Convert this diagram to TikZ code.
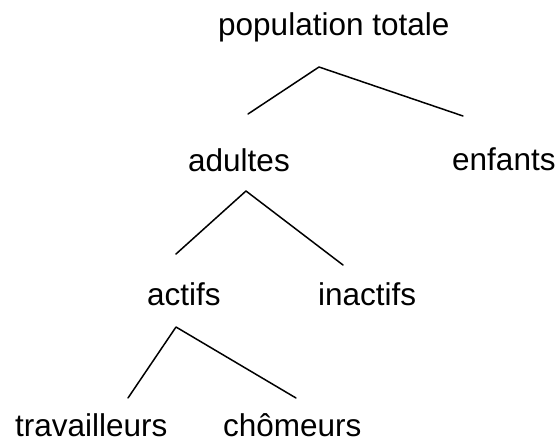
\documentclass[tikz,border=0pt]{standalone}
\usepackage{fontspec}
\setmainfont{Liberation Sans}
\begin{document}
\begin{tikzpicture}[x=1pt,y=-1pt,
  lbl/.style={anchor=base west,inner sep=0pt,font=\fontsize{31.5}{36}\selectfont},
  conn/.style={line width=1.5pt,line cap=round,line join=round}]
\useasboundingbox (0,0) rectangle (557,442);
\node[lbl] (pop) at (218,35) {population totale};
\node[lbl] (adultes) at (188,171) {adultes};
\node[lbl] (enfants) at (452,170) {enfants};
\node[lbl] (actifs) at (147,305) {actifs};
\node[lbl] (inactifs) at (318,305) {inactifs};
\node[lbl] (trav) at (15,436) {travailleurs};
\node[lbl] (chom) at (223,436) {chômeurs};
\coordinate (p0) at (319,67);
\coordinate (p1) at (248,114);
\coordinate (p2) at (463,116);
\coordinate (a0) at (246,191);
\coordinate (a1) at (176,254);
\coordinate (a2) at (343,265);
\coordinate (c0) at (176,327);
\coordinate (c1) at (128,398);
\coordinate (c2) at (296,398);
\draw[conn] (p1) -- (p0) -- (p2);
\draw[conn] (a1) -- (a0) -- (a2);
\draw[conn] (c1) -- (c0) -- (c2);
\end{tikzpicture}
\end{document}
